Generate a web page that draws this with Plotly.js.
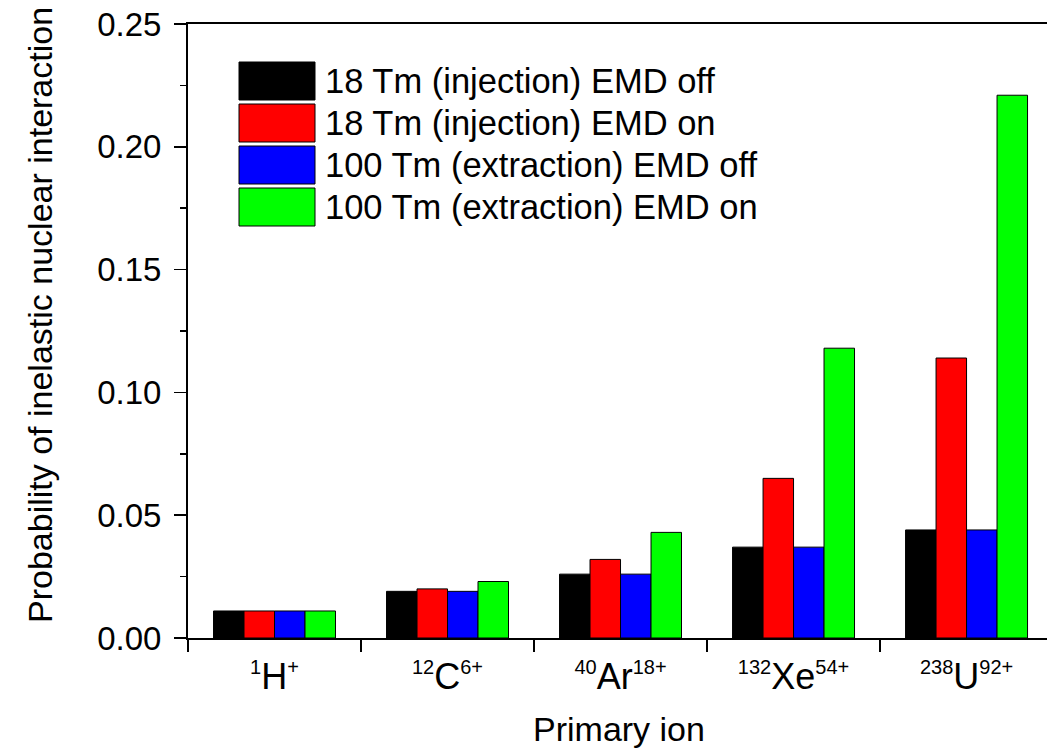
<!DOCTYPE html>
<html>
<head>
<meta charset="utf-8">
<script src="https://cdn.plot.ly/plotly-3.0.1.min.js"></script>
<style>html,body{margin:0;padding:0;background:#fff;}#chart{width:1047px;height:753px;}</style>
</head>
<body>
<div id="chart"></div>
<script>
// ---- data ----
const ions = [
  '<sup><span style="font-size:20px">1</span></sup>H<sup><span style="font-size:20px">+</span></sup>',
  '<sup><span style="font-size:20px">12</span></sup>C<sup><span style="font-size:20px">6+</span></sup>',
  '<sup><span style="font-size:20px">40</span></sup>Ar<sup><span style="font-size:20px">18+</span></sup>',
  '<sup><span style="font-size:20px">132</span></sup>Xe<sup><span style="font-size:20px">54+</span></sup>',
  '<sup><span style="font-size:20px">238</span></sup>U<sup><span style="font-size:20px">92+</span></sup>'
];
const seriesNames = [
  '18 Tm (injection) EMD off',
  '18 Tm (injection) EMD on',
  '100 Tm (extraction) EMD off',
  '100 Tm (extraction) EMD on'
];
const inj18Off  = [0.011, 0.019, 0.026, 0.037, 0.044];
const inj18On   = [0.011, 0.020, 0.032, 0.065, 0.114];
const ext100Off = [0.011, 0.019, 0.026, 0.037, 0.044];
const ext100On  = [0.011, 0.023, 0.043, 0.118, 0.221];
const seriesValues = [inj18Off, inj18On, ext100Off, ext100On];
const seriesColors = ['#000000', '#ff0000', '#0000ff', '#00ff00'];
const yTicks = [0, 0.05, 0.10, 0.15, 0.20, 0.25];

// ---- layout constants ----
const W = 1047, H = 753;
const mL = 188, mR = 0, mT = 24, mB = 115;
const pw = W - mL - mR, ph = H - mT - mB;
const font = 'Liberation Sans, Arial, sans-serif';
const px2x = x => (x - mL) / pw;
const px2y = y => (H - mB - y) / ph;

const traces = seriesValues.map((vals, i) => ({
  type: 'bar',
  x: ions,
  y: vals,
  name: seriesNames[i],
  marker: {color: seriesColors[i], line: {color: '#000', width: 1}},
  showlegend: false,
  hoverinfo: 'y'
}));

const shapes = [];
const annotations = [];
seriesNames.forEach((nm, i) => {
  const top = 62 + 42 * i, bot = top + 38;
  shapes.push({
    type: 'rect', xref: 'paper', yref: 'paper',
    x0: px2x(239), x1: px2x(315), y0: px2y(bot), y1: px2y(top),
    fillcolor: seriesColors[i], line: {color: '#000', width: 1}
  });
  annotations.push({
    xref: 'paper', yref: 'paper', x: px2x(323), y: px2y((top + bot) / 2),
    xanchor: 'left', yanchor: 'middle', showarrow: false,
    text: nm, font: {family: font, size: 34.5, color: '#000'}
  });
});
annotations.push({
  xref: 'paper', yref: 'paper', x: px2x(40), y: px2y(315),
  xanchor: 'center', yanchor: 'middle', showarrow: false, textangle: -90,
  text: 'Probability of inelastic nuclear interaction',
  font: {family: font, size: 34, color: '#000'}
});
annotations.push({
  xref: 'paper', yref: 'paper', x: px2x(619), y: px2y(729),
  xanchor: 'center', yanchor: 'middle', showarrow: false,
  text: 'Primary ion',
  font: {family: font, size: 34, color: '#000'}
});

const layout = {
  width: W, height: H,
  margin: {l: mL, r: mR, t: mT, b: mB, pad: 0},
  paper_bgcolor: '#fff', plot_bgcolor: '#fff',
  barmode: 'group', bargap: 0.295, bargroupgap: 0,
  font: {family: font, color: '#000'},
  xaxis: {
    type: 'category', range: [-0.5, 4.465],
    tickson: 'boundaries', ticks: 'outside', ticklen: 12, tickwidth: 1.5, tickcolor: '#000',
    showline: true, linecolor: '#000', linewidth: 2, mirror: true,
    showgrid: false, zeroline: false, ticklabelstandoff: 6,
    tickfont: {family: font, size: 36, color: '#000'}
  },
  yaxis: {
    range: [0, 0.25], tickvals: yTicks, tickformat: '.2f',
    ticks: 'outside', ticklen: 12, tickwidth: 1.5, tickcolor: '#000',
    minor: {dtick: 0.025, ticks: 'outside', ticklen: 6, tickwidth: 1.5, tickcolor: '#000', showgrid: false},
    showline: true, linecolor: '#000', linewidth: 2, mirror: false,
    showgrid: false, zeroline: false, ticklabelstandoff: 6,
    tickfont: {family: font, size: 33, color: '#000'}
  },
  shapes: shapes,
  annotations: annotations
};

Plotly.newPlot('chart', traces, layout, {displayModeBar: false, staticPlot: true});
</script>
</body>
</html>
